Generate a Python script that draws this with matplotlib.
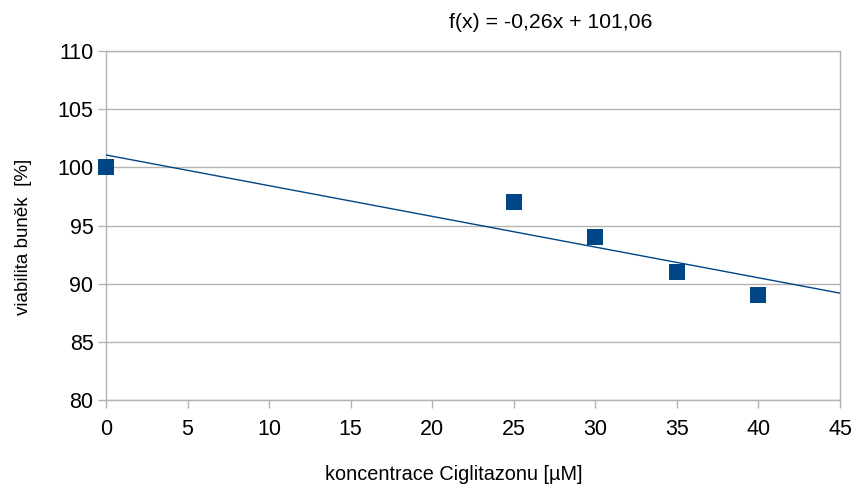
import matplotlib
matplotlib.use("Agg")
import matplotlib.pyplot as plt
import numpy as np

plt.rcParams['font.family'] = ['Liberation Sans', 'DejaVu Sans']

conc = [0, 25, 30, 35, 40]
viability = [100, 97, 94, 91, 89]
trend_x = [0, 45]
eq_label = "f(x) = -0,26x + 101,06"
xticks = [0, 5, 10, 15, 20, 25, 30, 35, 40, 45]
yticks = [80, 85, 90, 95, 100, 105, 110]

fig = plt.figure(figsize=(8.56, 4.84), dpi=100)
ax = fig.add_axes([106/856, 1 - 400/484, (840-106)/856, (400-51)/484])

color = '#004586'
coef = np.polyfit(conc, viability, 1)
tx = np.array(trend_x, dtype=float)
ax.plot(tx, np.polyval(coef, tx), color=color, lw=1.0, zorder=3)
ax.plot(conc, viability, linestyle='none', marker='s', markersize=11.5,
        color=color, markeredgewidth=0, zorder=4, clip_on=False)

ax.set_xlim(0, 45)
ax.set_ylim(80, 110)
ax.set_xticks(xticks)
ax.set_yticks(yticks)
ax.yaxis.grid(True, color='#b3b3b3', lw=1)
ax.set_axisbelow(True)
for s in ax.spines.values():
    s.set_color('#b3b3b3')
    s.set_linewidth(1)
ax.tick_params(axis='both', colors='#b3b3b3', length=6, width=1,
               labelcolor='black', labelsize=15.5)
ax.tick_params(axis='x', pad=8)
ax.tick_params(axis='y', pad=3)

ax.set_xlabel("koncentrace Ciglitazonu [µM]", fontsize=14.3)
ax.xaxis.set_label_coords((454-106)/734, -(465-400)/349)
ax.set_ylabel("viabilita buněk  [%]", fontsize=13.5)
ax.yaxis.set_label_coords(-(106-32)/734, 0.467)
fig.text(551/856, 1 - 22/484, eq_label, ha='center', va='center', fontsize=15.3)

fig.savefig("out.png", dpi=100, facecolor='white')
